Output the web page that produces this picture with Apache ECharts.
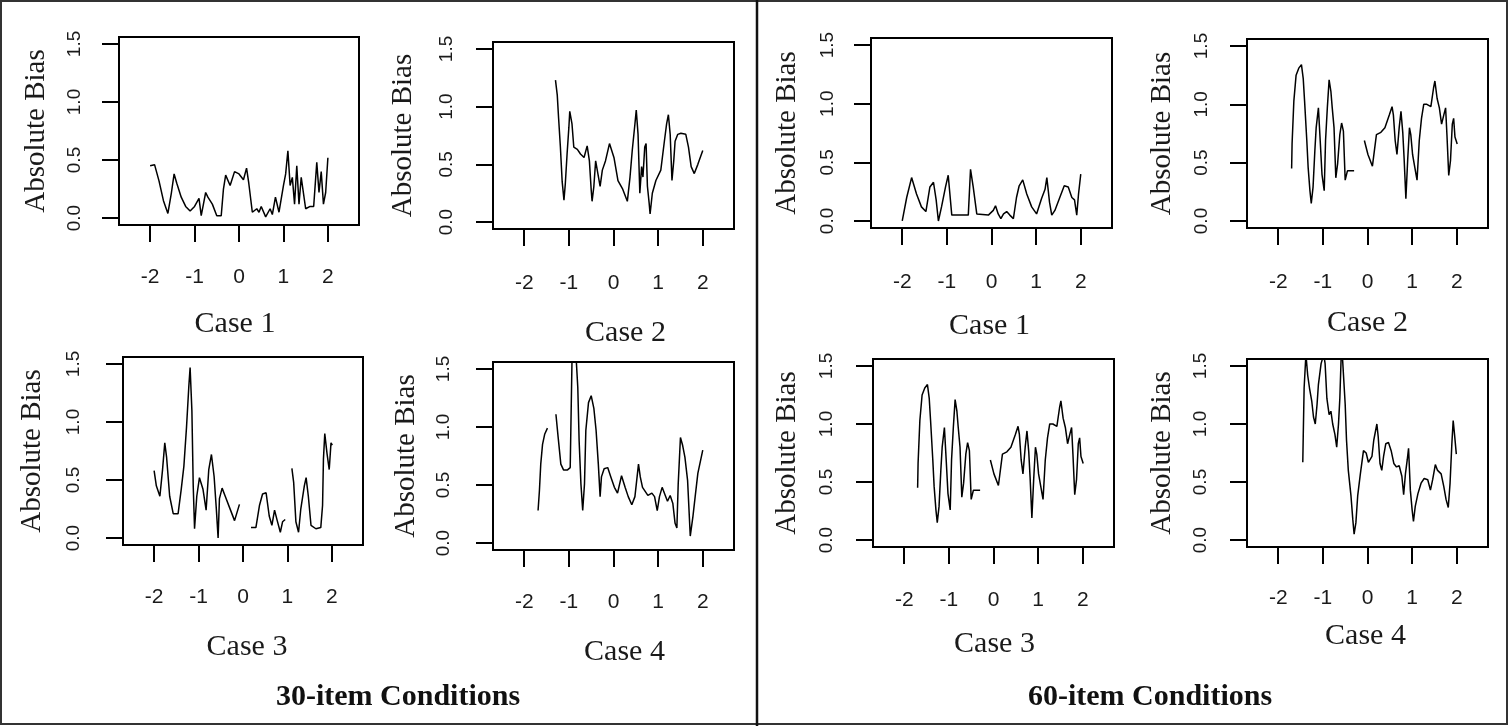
<!DOCTYPE html>
<html>
<head>
<meta charset="utf-8">
<title>Absolute Bias</title>
<script src="https://cdn.jsdelivr.net/npm/echarts@6.0.0/dist/echarts.min.js"></script>
<style>
  html, body { margin: 0; padding: 0; background: #fff; }
  #chart { width: 1508px; height: 726px; }
</style>
</head>
<body>
<div id="chart"></div>
<script>
// tick values shared by every panel
const xTicks = [-2, -1, 0, 1, 2];
const yTicks = [0, 0.5, 1, 1.5];

// 30-item conditions: [theta, absolute bias], null = no estimate
const c30_case1 = [
  [-2.0, 0.45], [-1.9, 0.46], [-1.8, 0.32], [-1.7, 0.15], [-1.6, 0.04], [-1.52, 0.22], [-1.46, 0.38],
  [-1.4, 0.30], [-1.3, 0.18], [-1.2, 0.10], [-1.1, 0.06], [-1.0, 0.10], [-0.9, 0.17], [-0.85, 0.02],
  [-0.8, 0.12], [-0.75, 0.22], [-0.7, 0.18], [-0.6, 0.12], [-0.5, 0.02], [-0.4, 0.02], [-0.35, 0.25],
  [-0.3, 0.37], [-0.2, 0.28], [-0.1, 0.40], [0.0, 0.38], [0.1, 0.33], [0.17, 0.43], [0.22, 0.30],
  [0.3, 0.05], [0.4, 0.08], [0.45, 0.05], [0.5, 0.10], [0.6, 0.01], [0.7, 0.08], [0.75, 0.03],
  [0.82, 0.18], [0.9, 0.05], [1.0, 0.28], [1.05, 0.38], [1.1, 0.58], [1.15, 0.28], [1.2, 0.35],
  [1.25, 0.12], [1.3, 0.45], [1.35, 0.12], [1.4, 0.35], [1.5, 0.08], [1.6, 0.10], [1.68, 0.10],
  [1.75, 0.48], [1.8, 0.22], [1.85, 0.40], [1.9, 0.12], [1.95, 0.22], [2.0, 0.52]
];
const c30_case2 = [
  [-1.30, 1.23], [-1.26, 1.10], [-1.23, 0.90], [-1.19, 0.65], [-1.15, 0.35], [-1.11, 0.19], [-1.08, 0.33],
  [-1.04, 0.59], [-1.0, 0.82], [-0.98, 0.96], [-0.93, 0.85], [-0.89, 0.65], [-0.81, 0.63], [-0.74, 0.59],
  [-0.66, 0.56], [-0.59, 0.66], [-0.54, 0.53], [-0.50, 0.28], [-0.48, 0.18], [-0.44, 0.31], [-0.40, 0.53],
  [-0.35, 0.42], [-0.30, 0.31], [-0.25, 0.45], [-0.18, 0.53], [-0.09, 0.68], [0.01, 0.56], [0.10, 0.36],
  [0.20, 0.29], [0.31, 0.18], [0.37, 0.39], [0.42, 0.62], [0.48, 0.85], [0.51, 0.97], [0.55, 0.76],
  [0.59, 0.25], [0.63, 0.48], [0.66, 0.39], [0.70, 0.65], [0.73, 0.68], [0.76, 0.31], [0.80, 0.16],
  [0.82, 0.07], [0.87, 0.25], [0.95, 0.36], [1.06, 0.45], [1.14, 0.70], [1.19, 0.85], [1.23, 0.93],
  [1.27, 0.76], [1.31, 0.36], [1.35, 0.53], [1.38, 0.70], [1.44, 0.76], [1.51, 0.77], [1.62, 0.76],
  [1.68, 0.65], [1.74, 0.48], [1.81, 0.42], [1.89, 0.50], [2.0, 0.62]
];
const c30_case3 = [
  [-2.0, 0.58], [-1.95, 0.45], [-1.87, 0.36], [-1.81, 0.59], [-1.76, 0.82], [-1.72, 0.70], [-1.65, 0.36],
  [-1.57, 0.21], [-1.46, 0.21], [-1.39, 0.42], [-1.33, 0.62], [-1.27, 0.96], [-1.22, 1.30], [-1.19, 1.47],
  [-1.15, 1.10], [-1.12, 0.45], [-1.09, 0.08], [-1.04, 0.36], [-0.98, 0.52], [-0.90, 0.42], [-0.83, 0.24],
  [-0.77, 0.59], [-0.71, 0.72], [-0.65, 0.53], [-0.60, 0.25], [-0.56, 0.0], [-0.53, 0.34], [-0.47, 0.43],
  [-0.40, 0.36], [-0.30, 0.26], [-0.19, 0.15], [-0.08, 0.29], [0.05, null],
  [0.18, 0.09], [0.29, 0.09], [0.37, 0.28], [0.44, 0.38], [0.52, 0.39], [0.59, 0.19], [0.65, 0.11],
  [0.71, 0.24], [0.77, 0.15], [0.84, 0.05], [0.89, 0.14], [0.95, 0.16], [1.02, null],
  [1.10, 0.60], [1.14, 0.48], [1.19, 0.14], [1.25, 0.05], [1.30, 0.25], [1.38, 0.45], [1.42, 0.52],
  [1.47, 0.36], [1.53, 0.11], [1.64, 0.08], [1.75, 0.09], [1.79, 0.28], [1.81, 0.68], [1.84, 0.90],
  [1.89, 0.73], [1.94, 0.59], [1.98, 0.82], [2.01, 0.80]
];
const c30_case4 = [
  [-1.69, 0.28], [-1.66, 0.45], [-1.63, 0.68], [-1.59, 0.85], [-1.54, 0.94], [-1.48, 0.99], [-1.4, null],
  [-1.29, 1.11], [-1.24, 0.91], [-1.18, 0.68], [-1.12, 0.63], [-1.03, 0.63], [-0.97, 0.65], [-0.92, 1.80],
  [-0.86, 1.75], [-0.80, 1.34], [-0.77, 0.88], [-0.73, 0.51], [-0.69, 0.28], [-0.65, 0.51], [-0.62, 0.97],
  [-0.56, 1.21], [-0.50, 1.27], [-0.44, 1.16], [-0.39, 0.97], [-0.34, 0.68], [-0.30, 0.40], [-0.27, 0.57],
  [-0.21, 0.64], [-0.13, 0.65], [-0.06, 0.57], [0.02, 0.48], [0.09, 0.43], [0.18, 0.58], [0.26, 0.48],
  [0.33, 0.40], [0.41, 0.33], [0.48, 0.40], [0.56, 0.68], [0.60, 0.57], [0.65, 0.48], [0.77, 0.41],
  [0.86, 0.43], [0.92, 0.40], [0.98, 0.28], [1.03, 0.40], [1.09, 0.48], [1.16, 0.41], [1.21, 0.36],
  [1.27, 0.41], [1.33, 0.34], [1.38, 0.17], [1.42, 0.13], [1.45, 0.51], [1.50, 0.91], [1.55, 0.84],
  [1.60, 0.74], [1.66, 0.54], [1.72, 0.06], [1.78, 0.23], [1.83, 0.40], [1.89, 0.60], [2.0, 0.80]
];

// 60-item conditions
const c60_case1 = [
  [-2.0, 0.0], [-1.90, 0.20], [-1.79, 0.37], [-1.68, 0.23], [-1.57, 0.12], [-1.47, 0.08], [-1.38, 0.29],
  [-1.30, 0.33], [-1.24, 0.18], [-1.19, 0.0], [-1.12, 0.12], [-1.03, 0.29], [-0.97, 0.39], [-0.89, 0.05],
  [-0.52, 0.05], [-0.47, 0.44], [-0.41, 0.29], [-0.33, 0.06], [-0.07, 0.05], [0.04, 0.09], [0.09, 0.13],
  [0.15, 0.06], [0.21, 0.02], [0.27, 0.06], [0.34, 0.08], [0.41, 0.05], [0.49, 0.02], [0.56, 0.20],
  [0.62, 0.30], [0.70, 0.35], [0.79, 0.23], [0.90, 0.12], [1.01, 0.06], [1.12, 0.19], [1.20, 0.27],
  [1.24, 0.37], [1.30, 0.16], [1.35, 0.05], [1.42, 0.09], [1.53, 0.20], [1.63, 0.30], [1.72, 0.29],
  [1.80, 0.20], [1.86, 0.18], [1.91, 0.05], [1.95, 0.23], [2.0, 0.40]
];
const c60_case2 = [
  [-1.70, 0.45], [-1.69, 0.66], [-1.65, 1.03], [-1.60, 1.25], [-1.54, 1.31], [-1.48, 1.34], [-1.44, 1.22],
  [-1.41, 1.03], [-1.36, 0.69], [-1.33, 0.46], [-1.29, 0.26], [-1.26, 0.15], [-1.22, 0.29], [-1.18, 0.60],
  [-1.15, 0.80], [-1.10, 0.97], [-1.06, 0.69], [-1.02, 0.40], [-0.97, 0.26], [-0.94, 0.69], [-0.90, 0.97],
  [-0.86, 1.21], [-0.82, 1.11], [-0.79, 0.97], [-0.75, 0.80], [-0.71, 0.37], [-0.67, 0.49], [-0.62, 0.74],
  [-0.58, 0.84], [-0.54, 0.77], [-0.50, 0.35], [-0.45, 0.43], [-0.30, 0.43], [-0.2, null],
  [-0.07, 0.69], [0.01, 0.57], [0.11, 0.47], [0.20, 0.74], [0.30, 0.76], [0.39, 0.80], [0.49, 0.91],
  [0.55, 0.98], [0.58, 0.91], [0.62, 0.69], [0.66, 0.57], [0.71, 0.80], [0.75, 0.94], [0.79, 0.76],
  [0.82, 0.54], [0.86, 0.19], [0.90, 0.52], [0.94, 0.80], [0.97, 0.74], [1.01, 0.57], [1.06, 0.46],
  [1.11, 0.35], [1.16, 0.69], [1.21, 0.88], [1.26, 1.0], [1.33, 1.0], [1.42, 0.98], [1.48, 1.14],
  [1.51, 1.20], [1.56, 1.05], [1.61, 0.97], [1.66, 0.83], [1.71, 0.91], [1.75, 0.97], [1.78, 0.74],
  [1.82, 0.39], [1.86, 0.52], [1.90, 0.83], [1.93, 0.88], [1.96, 0.72], [2.01, 0.66]
];
// the source figure draws 60-item Case 3 with the same curve as Case 2
const c60_case3 = c60_case2;
const c60_case4 = [
  [-1.45, 0.67], [-1.44, 0.89], [-1.42, 1.31], [-1.38, 1.60], [-1.34, 1.42], [-1.30, 1.31], [-1.25, 1.20],
  [-1.21, 1.06], [-1.17, 1.0], [-1.13, 1.17], [-1.10, 1.34], [-1.04, 1.52], [-0.98, 1.60], [-0.95, 1.52],
  [-0.91, 1.22], [-0.86, 1.08], [-0.82, 1.11], [-0.78, 1.0], [-0.73, 0.91], [-0.69, 0.80], [-0.65, 1.0],
  [-0.62, 1.22], [-0.58, 1.70], [-0.54, 1.70], [-0.50, 1.17], [-0.47, 0.86], [-0.43, 0.60], [-0.37, 0.38],
  [-0.33, 0.18], [-0.30, 0.05], [-0.26, 0.15], [-0.22, 0.38], [-0.16, 0.57], [-0.09, 0.77], [-0.03, 0.75],
  [0.02, 0.67], [0.06, 0.66], [0.10, 0.72], [0.14, 0.86], [0.21, 1.0], [0.24, 0.89], [0.28, 0.66],
  [0.32, 0.60], [0.36, 0.72], [0.41, 0.83], [0.47, 0.84], [0.53, 0.77], [0.59, 0.66], [0.65, 0.63],
  [0.71, 0.64], [0.77, 0.55], [0.81, 0.39], [0.85, 0.57], [0.89, 0.69], [0.92, 0.79], [0.96, 0.43],
  [1.0, 0.26], [1.03, 0.16], [1.07, 0.29], [1.13, 0.40], [1.20, 0.49], [1.27, 0.53], [1.35, 0.52],
  [1.41, 0.43], [1.46, 0.52], [1.52, 0.65], [1.57, 0.60], [1.65, 0.57], [1.71, 0.46], [1.76, 0.35],
  [1.81, 0.28], [1.85, 0.49], [1.89, 0.83], [1.92, 1.03], [1.95, 0.91], [1.99, 0.74]
];

// layout of the 8 panels: plot box [left, top, width, height] and label gaps
const panels = [
  { data: c30_case1, name: "Case 1", box: [119, 37, 240, 188], yLab: 44, yName: 83, xLab: 52, xName: 99, dx: -4 },
  { data: c30_case2, name: "Case 2", box: [493, 42, 241, 187], yLab: 46, yName: 90, xLab: 54, xName: 104, dx: 12 },
  { data: c30_case3, name: "Case 3", box: [123, 357, 240, 188], yLab: 49, yName: 91, xLab: 52, xName: 102, dx: 4 },
  { data: c30_case4, name: "Case 4", box: [493, 362, 241, 188], yLab: 49, yName: 87, xLab: 52, xName: 102, dx: 11 },
  { data: c60_case1, name: "Case 1", box: [871, 38, 241, 190], yLab: 43, yName: 84, xLab: 54, xName: 98, dx: -2 },
  { data: c60_case2, name: "Case 2", box: [1247, 39, 241, 189], yLab: 45, yName: 85, xLab: 54, xName: 95, dx: 0 },
  { data: c60_case3, name: "Case 3", box: [873, 359, 241, 188], yLab: 46, yName: 86, xLab: 53, xName: 97, dx: 1 },
  { data: c60_case4, name: "Case 4", box: [1247, 359, 241, 188], yLab: 46, yName: 85, xLab: 51, xName: 89, dx: -2 }
];

const ink = "#1a1a1a";
const serif = "'Liberation Serif', 'Times New Roman', serif";
const sans = "'Liberation Sans', Arial, sans-serif";

let grid = [], xAxis = [], yAxis = [], series = [];
panels.forEach(function (p, i) {
  grid.push({
    left: p.box[0], top: p.box[1], width: p.box[2], height: p.box[3],
    show: true, borderColor: "#000", borderWidth: 2, backgroundColor: "transparent",
    containLabel: false
  });
  xAxis.push({
    type: "value", gridIndex: i, min: -2.7, max: 2.7,
    name: p.name, nameLocation: "middle", nameGap: p.xName,
    nameTextStyle: {
      fontFamily: serif, fontSize: 30, color: ink, verticalAlign: "middle",
      padding: p.dx > 0 ? [0, 0, 0, 2 * p.dx] : [0, -2 * p.dx, 0, 0]
    },
    axisLine: { show: false, onZero: false },
    axisTick: { show: true, length: 17, customValues: xTicks, lineStyle: { color: "#000", width: 2 } },
    axisLabel: {
      customValues: xTicks, margin: p.xLab, verticalAlign: "middle",
      fontFamily: sans, fontSize: 21, color: ink
    },
    splitLine: { show: false }
  });
  yAxis.push({
    type: "value", gridIndex: i, min: -0.06, max: 1.56,
    name: "Absolute Bias", nameLocation: "middle", nameRotate: 90, nameGap: p.yName,
    nameTextStyle: { fontFamily: serif, fontSize: 29, color: ink, verticalAlign: "middle" },
    axisLine: { show: false, onZero: false },
    axisTick: { show: true, length: 17, customValues: yTicks, lineStyle: { color: "#000", width: 2 } },
    axisLabel: {
      customValues: yTicks, rotate: 90, margin: p.yLab, align: "center", verticalAlign: "middle",
      fontFamily: sans, fontSize: 19, color: ink,
      formatter: function (v) { return v.toFixed(1); }
    },
    splitLine: { show: false }
  });
  series.push({
    type: "line", xAxisIndex: i, yAxisIndex: i,
    data: p.data, showSymbol: false, clip: true, connectNulls: false,
    lineStyle: { color: "#000", width: 1.5 }
  });
});

let myChart = echarts.init(document.getElementById("chart"));
myChart.setOption({
  animation: false,
  backgroundColor: "#fff",
  grid: grid,
  xAxis: xAxis,
  yAxis: yAxis,
  series: series,
  graphic: [
    { type: "rect", shape: { x: 1, y: 1, width: 1506, height: 723 }, style: { fill: "none", stroke: "#333", lineWidth: 2 } },
    { type: "line", shape: { x1: 757, y1: 0, x2: 757, y2: 726 }, style: { stroke: "#111", lineWidth: 2.5 } },
    {
      type: "text", x: 398, y: 697,
      style: { text: "30-item Conditions", align: "center", verticalAlign: "middle", font: "bold 30px " + serif, fill: "#111" }
    },
    {
      type: "text", x: 1150, y: 697,
      style: { text: "60-item Conditions", align: "center", verticalAlign: "middle", font: "bold 30px " + serif, fill: "#111" }
    }
  ]
});
</script>
</body>
</html>
